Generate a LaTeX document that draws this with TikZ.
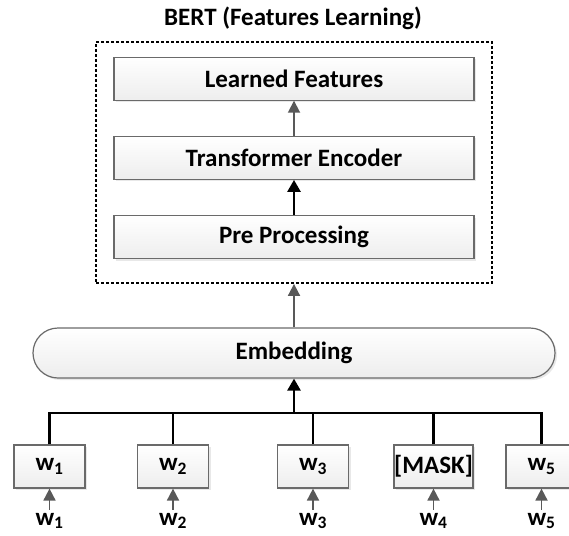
\documentclass[tikz,border=0pt]{standalone}
\usepackage{fontspec}
\setmainfont{Carlito}
\usepackage{tikz}
\usetikzlibrary{positioning,arrows.meta,shadows}

\definecolor{arrgray}{HTML}{595959}
\definecolor{edgegray}{HTML}{6A6A6A}

\begin{document}
\begin{tikzpicture}[
  x=1pt, y=-1pt,
  font=\bfseries\fontsize{25}{30}\selectfont,
  node distance=35pt,
  softshadow/.style={drop shadow={shadow xshift=2pt, shadow yshift=-2pt, opacity=0.18}},
  stagebox/.style={draw=edgegray, line width=1.2pt, top color=white, bottom color=gray!14,
    minimum width=360pt, minimum height=43pt, inner sep=0pt, softshadow},
  wordbox/.style={stagebox, minimum width=71pt},
  pill/.style={stagebox, rounded corners=25pt, minimum width=522pt, minimum height=50pt},
  frame/.style={draw, line width=1.8pt, dash pattern=on 3pt off 2pt, minimum width=396pt, minimum height=241pt},
  grayarrow/.style={draw=arrgray, line width=1.8pt, -{Triangle[length=12pt, width=12pt]}, arrgray},
  blackarrow/.style={draw, line width=2.6pt, -{Triangle[length=12pt, width=13pt]}},
  busline/.style={draw, line width=2.6pt}
]
\useasboundingbox (0,0) rectangle (569,535);
\clip (0,0) rectangle (569,535);

% BERT block
\node[frame] (bert) at (294,162.5) {};
\node (title) at (293,18) {BERT (Features Learning)};
\node[stagebox] (pre) at (294,237) {Pre Processing};
\node[stagebox, above=of pre] (enc) {Transformer Encoder};
\node[stagebox, above=of enc] (feat) {Learned Features};

\draw[blackarrow] (pre) -- (enc);
\draw[grayarrow] (enc) -- (feat);

% embedding
\node[pill] (emb) at (294,353) {Embedding};
\draw[grayarrow] (emb) -- (bert);

% token boxes
\node[wordbox] (tok1) at (49.5,466.5) {w\textsubscript{1}};
\node[wordbox] (tok2) at (173,466.5) {w\textsubscript{2}};
\node[wordbox] (tok3) at (313,466.5) {w\textsubscript{3}};
\node[wordbox, minimum width=79pt] (tok4) at (433.5,466.5) {[MASK]};
\node[wordbox] (tok5) at (541.5,466.5) {w\textsubscript{5}};

% inputs
\foreach \i/\x in {1/49.5, 2/173, 3/313, 4/433.5, 5/541.5}{
  \node[anchor=base, inner sep=0pt] (in\i) at (\x,525) {w\textsubscript{\i}};
  \draw[grayarrow, shorten <=3pt] (in\i.north) -- (tok\i.south);
}

% bus into embedding
\coordinate (bus) at (294,413);
\draw[busline] (tok1.north) -- (tok1.north |- bus) -- (tok5.north |- bus) -- (tok5.north);
\foreach \i in {2,3,4}
  \draw[busline] (tok\i.north) -- (tok\i.north |- bus);
\draw[blackarrow] (bus) -- (emb.south);
\end{tikzpicture}
\end{document}
